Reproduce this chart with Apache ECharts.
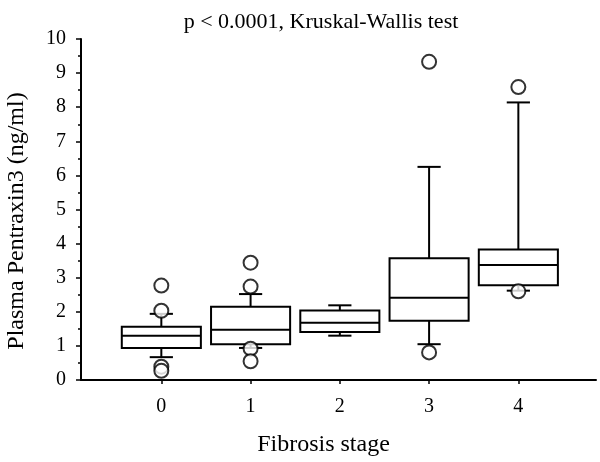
<!DOCTYPE html>
<html>
<head>
<meta charset="utf-8">
<script src="https://cdn.jsdelivr.net/npm/echarts@6/dist/echarts.min.js"></script>
<style>
  html, body { margin: 0; padding: 0; background: #fff; }
  #chart { width: 600px; height: 462px; }
</style>
</head>
<body>
<div id="chart"></div>
<script>
const stages = [0, 1, 2, 3, 4];
const whiskerLow = [0.67, 0.94, 1.30, 1.05, 2.62];
const q1 = [0.94, 1.05, 1.41, 1.74, 2.78];
const median = [1.30, 1.47, 1.68, 2.41, 3.37];
const q3 = [1.56, 2.15, 2.04, 3.57, 3.83];
const whiskerHigh = [1.94, 2.52, 2.19, 6.25, 8.14];
const outliers = [
  [0, 2.77], [0, 2.03], [0, 0.39], [0, 0.27],
  [1, 3.44], [1, 2.74], [1, 0.92], [1, 0.55],
  [3, 9.33], [3, 0.81],
  [4, 8.59], [4, 2.60],
];
const yTicks = [0, 1, 2, 3, 4, 5, 6, 7, 8, 9, 10];

const font = "Liberation Serif";
const chart = echarts.init(document.getElementById("chart"));

const boxData = stages.map((s, i) => [s, whiskerLow[i], q1[i], median[i], q3[i], whiskerHigh[i]]);

const renderBox = (params, api) => {
  const x = api.value(0);
  const unit = api.size([1, 0])[0];
  const half = unit * 0.443;
  const cap = unit * 0.13;
  const pLow = api.coord([x, api.value(1)]);
  const pQ1 = api.coord([x, api.value(2)]);
  const pMed = api.coord([x, api.value(3)]);
  const pQ3 = api.coord([x, api.value(4)]);
  const pHigh = api.coord([x, api.value(5)]);
  const cx = pMed[0];
  const style = { stroke: "#000", lineWidth: 2, fill: null };
  return {
    type: "group",
    children: [
      { type: "line", shape: { x1: cx, y1: pQ3[1], x2: cx, y2: pHigh[1] }, style },
      { type: "line", shape: { x1: cx - cap, y1: pHigh[1], x2: cx + cap, y2: pHigh[1] }, style },
      { type: "line", shape: { x1: cx, y1: pQ1[1], x2: cx, y2: pLow[1] }, style },
      { type: "line", shape: { x1: cx - cap, y1: pLow[1], x2: cx + cap, y2: pLow[1] }, style },
      {
        type: "rect",
        shape: { x: cx - half, y: pQ3[1], width: half * 2, height: pQ1[1] - pQ3[1] },
        style: { stroke: "#000", lineWidth: 2, fill: "#fff" },
      },
      { type: "line", shape: { x1: cx - half, y1: pMed[1], x2: cx + half, y2: pMed[1] }, style },
    ],
  };
};

const option = {
  animation: false,
  title: {
    text: "p < 0.0001, Kruskal-Wallis test",
    left: 316,
    textAlign: "center",
    top: 6,
    textStyle: { fontFamily: font, fontSize: 22, fontWeight: "normal", color: "#000" },
  },
  grid: { left: 81, right: 4, top: 39, bottom: 82, outerBoundsMode: "none" },
  xAxis: {
    type: "value",
    min: -0.9,
    max: 4.87,
    splitLine: { show: false },
    axisLine: { show: true, onZero: false, lineStyle: { color: "#000", width: 2 } },
    axisTick: { show: true, customValues: stages, length: 4, lineStyle: { color: "#000", width: 1.5 } },
    axisLabel: {
      customValues: stages,
      margin: 17,
      fontFamily: font,
      fontSize: 20,
      color: "#000",
    },
    name: "Fibrosis stage",
    nameLocation: "middle",
    nameGap: 53,
    nameTextStyle: { fontFamily: font, fontSize: 24, color: "#000", padding: [0, 30, 0, 0] },
  },
  yAxis: {
    type: "value",
    min: 0,
    max: 10,
    interval: 1,
    splitLine: { show: false },
    axisLine: { show: true, onZero: false, lineStyle: { color: "#000", width: 2 } },
    axisTick: { show: true, length: 5, lineStyle: { color: "#000", width: 1.5 } },
    minorTick: { show: true, splitNumber: 2, length: 3, lineStyle: { color: "#000", width: 1.5 } },
    axisLabel: {
      margin: 15,
      fontFamily: font,
      fontSize: 20,
      color: "#000",
      formatter: (v) => (yTicks.includes(v) ? String(v) : ""),
    },
    name: "Plasma Pentraxin3 (ng/ml)",
    nameLocation: "middle",
    nameGap: 52,
    nameTextStyle: { fontFamily: font, fontSize: 24, color: "#000", padding: [0, 23, 0, 0] },
  },
  series: [
    {
      type: "custom",
      renderItem: renderBox,
      data: boxData,
      encode: { x: 0, y: [1, 2, 3, 4, 5] },
      z: 2,
    },
    {
      type: "scatter",
      data: outliers,
      symbol: "emptyCircle",
      symbolSize: 14,
      itemStyle: { color: "#000", borderWidth: 2 },
      z: 3,
    },
  ],
};

chart.setOption(option);
</script>
</body>
</html>
